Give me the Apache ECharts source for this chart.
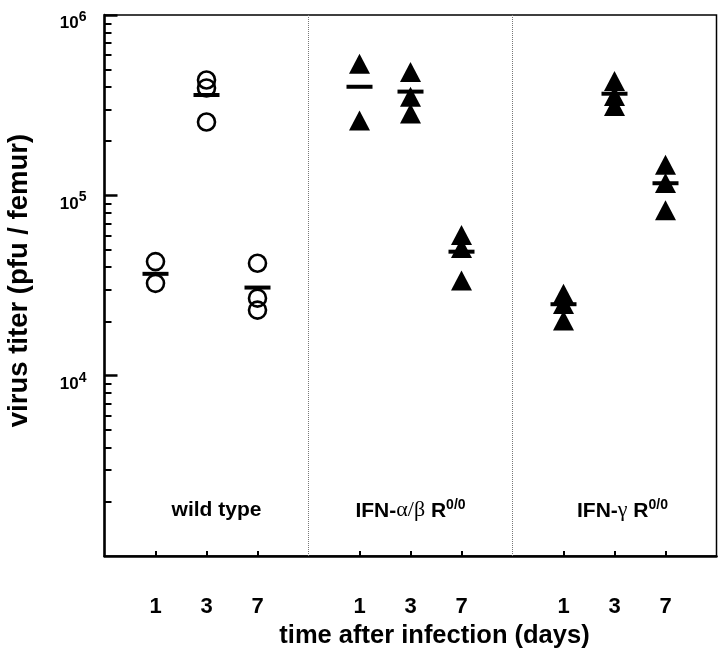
<!DOCTYPE html>
<html><head><meta charset="utf-8">
<script src="https://cdn.jsdelivr.net/npm/echarts@6/dist/echarts.min.js"></script>
<style>html,body{margin:0;padding:0;background:#fff}#c{width:720px;height:648px}</style>
</head><body><div id="c"></div>
<script>
// ---- data ----
const days = ['1', '3', '7'];
const groupNames = ['wild type', 'IFN-α/β', 'IFN-γ'];
const yMajorTicks = [10000, 100000, 1000000];
const wildType = [[42900, 32500], [436000, 394000, 255000], [42000, 26900, 23100]];
const ifnAlphaBeta = [[536000, 260000], [483000, 352000, 284000], [60200, 51000, 33700]];
const ifnGamma = [[28500, 25000, 20200], [430000, 356000, 313000], [148000, 117000, 82600]];
const wildTypeMean = [36700, 360000, 30800];
const ifnAlphaBetaMean = [400000, 376000, 48700];
const ifnGammaMean = [24900, 366000, 116700];

// ---- helpers ----
const FONT = 'Liberation Sans, Arial, Helvetica, sans-serif';
const pos = (g, d) => 1 + 4 * g + d;
const dayPositions = [];
for (let g = 0; g < 3; g++) for (let d = 0; d < 3; d++) dayPositions.push(pos(g, d));
const minorTicks = [];
for (let e = 3; e < 6; e++) for (let m = 2; m <= 9; m++) minorTicks.push(m * Math.pow(10, e));

function pts(groupIdx, arr) {
  const out = [];
  arr.forEach((vals, d) => vals.forEach(v => out.push([pos(groupIdx, d), v])));
  return out;
}
function means(groupIdx, arr) {
  return arr.map((v, d) => [pos(groupIdx, d), v]);
}

const labelOffsets = [[10, 0], [0, 0], [8, 0]];

const chart = echarts.init(document.getElementById('c'), null, {renderer: 'canvas'});
const option = {
  backgroundColor: '#fff',
  animation: false,
  grid: {left: 104.5, right: 3.5, top: 15, bottom: 92, containLabel: false, outerBoundsMode: 'none',
    show: true, borderColor: '#000', borderWidth: 1.5, backgroundColor: 'transparent'},
  xAxis: {
    type: 'value', min: 0, max: 12, interval: 1,
    name: 'time after infection (days)', nameLocation: 'middle', nameGap: 56,
    nameTextStyle: {fontFamily: FONT, fontWeight: 'bold', fontSize: 25.5, color: '#000', padding: [0, 0, 0, 48]},
    axisLine: {show: true, lineStyle: {color: '#000', width: 2.5}},
    axisTick: {show: true, inside: true, length: 5, lineStyle: {color: '#000', width: 2}, customValues: dayPositions},
    axisLabel: {show: true, customValues: dayPositions, margin: 40, fontFamily: FONT, fontWeight: 'bold', fontSize: 22, color: '#000',
      formatter: v => days[(Math.round(v) - 1) % 4] || ''},
    splitLine: {show: false}
  },
  yAxis: [{
    type: 'log', logBase: 10, min: 1000, max: 1000000,
    name: 'virus titer (pfu / femur)', nameLocation: 'middle', nameGap: 71, nameRotate: 90,
    nameTextStyle: {fontFamily: FONT, fontWeight: 'bold', fontSize: 27.5, color: '#000', padding: [0, 0, 0, 10]},
    axisLine: {show: true, lineStyle: {color: '#000', width: 2.5}},
    axisTick: {show: true, inside: true, length: 13, lineStyle: {color: '#000', width: 2.5}, customValues: yMajorTicks},
    axisLabel: {show: true, customValues: yMajorTicks, margin: 18, padding: [12, 0, 0, 0],
      formatter: v => '{b|10}{s|' + Math.round(Math.log10(v)) + '}',
      rich: {
        b: {fontFamily: FONT, fontWeight: 'bold', fontSize: 17, color: '#000', verticalAlign: 'bottom'},
        s: {fontFamily: FONT, fontWeight: 'bold', fontSize: 14, color: '#000', verticalAlign: 'bottom', padding: [0, 0, 8, 0]}
      }},
    splitLine: {show: false}
  }, {
    type: 'log', logBase: 10, min: 1000, max: 1000000, position: 'left',
    axisLine: {show: false},
    axisTick: {show: true, inside: true, length: 7, lineStyle: {color: '#000', width: 2}, customValues: minorTicks},
    axisLabel: {show: false},
    splitLine: {show: false}
  }],
  series: [
    {
      type: 'scatter', name: 'wild type', data: pts(0, wildType),
      symbol: 'circle', symbolSize: 17,
      itemStyle: {color: 'rgba(0,0,0,0)', borderColor: '#000', borderWidth: 2.6, opacity: 1},
      markLine: {
        silent: true, symbol: 'none', label: {show: false},
        lineStyle: {color: '#777', width: 1, type: [1, 1], opacity: 1},
        data: [{xAxis: 4}, {xAxis: 8}]
      }
    },
    {
      type: 'scatter', name: 'IFN-α/β', data: pts(1, ifnAlphaBeta),
      symbol: 'triangle', symbolSize: [21, 20], itemStyle: {color: '#000', opacity: 1}
    },
    {
      type: 'scatter', name: 'IFN-γ', data: pts(2, ifnGamma),
      symbol: 'triangle', symbolSize: [21, 20], itemStyle: {color: '#000', opacity: 1}
    },
    {
      type: 'scatter', name: 'mean', z: 5,
      data: means(0, wildTypeMean).concat(means(1, ifnAlphaBetaMean), means(2, ifnGammaMean)),
      symbol: 'rect', symbolSize: [26, 4], itemStyle: {color: '#000', opacity: 1}
    },
    {
      type: 'scatter', name: 'labels', silent: true,
      data: groupNames.map((n, g) => ({value: [pos(g, 1), 1800], name: n, label: {offset: labelOffsets[g]}})),
      symbolSize: 1, itemStyle: {color: 'rgba(0,0,0,0)', opacity: 1},
      label: {
        show: true, position: 'inside',
        formatter: p => {
          if (p.dataIndex === 0) return '{t|wild type}';
          if (p.dataIndex === 1) return '{t|IFN-}{g|α/β}{t| R}{s|0/0}';
          return '{t|IFN-}{g|γ}{t| R}{s|0/0}';
        },
        rich: {
          t: {fontFamily: FONT, fontWeight: 'bold', fontSize: 21, color: '#000', verticalAlign: 'bottom'},
          g: {fontFamily: 'Liberation Serif, DejaVu Serif, serif', fontSize: 22, color: '#000', verticalAlign: 'bottom'},
          s: {fontFamily: FONT, fontWeight: 'bold', fontSize: 14, color: '#000', verticalAlign: 'bottom', padding: [0, 0, 9, 0]}
        }
      }
    }
  ]
};
chart.setOption(option);
</script>
</body></html>
